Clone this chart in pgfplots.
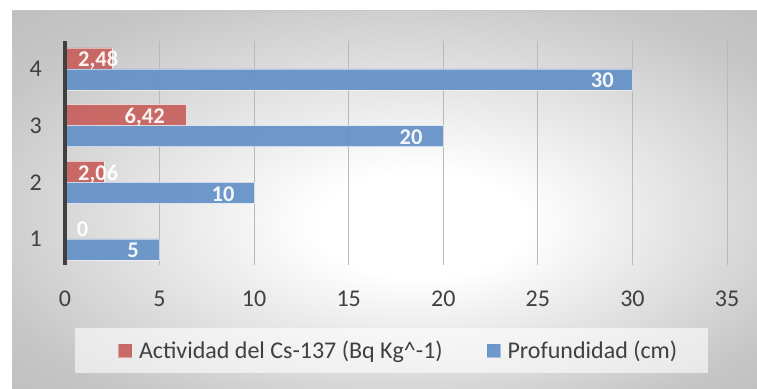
\documentclass[border=0pt]{standalone}
\usepackage{pgfplots}
\pgfplotsset{compat=1.18}
\usepackage{pgfplotstable}
\usepackage{fontspec}
\setmainfont{Carlito}

\definecolor{barred}{RGB}{200,96,93}
\definecolor{barblue}{RGB}{100,145,199}
\definecolor{txtgray}{RGB}{64,64,64}
\definecolor{gridgray}{RGB}{185,185,185}
\definecolor{edgegray}{RGB}{198,198,198}
\definecolor{cornergray}{RGB}{185,185,185}

% soft radial fill behind the chart
\pgfdeclareradialshading{chartbg}{\pgfpoint{3bp}{-4bp}}{%
  color(0bp)=(white); color(7bp)=(white); color(30bp)=(edgegray); color(42bp)=(cornergray)}

% activity of Cs-137 per sample; dx places the value label (pt, from bar end)
\pgfplotstableread{
depth act dx
1 0    27
2 2.06 18
3 6.42 -18
4 2.48 10
}\actividad

% sampling depth per sample
\pgfplotstableread{
depth prof dx
1 5  -17
2 10 -16
3 20 -17
4 30 -15
}\profundidad

\newcommand{\chartfont}{\fontsize{24}{29}\selectfont}
\newcommand{\labelfont}{\fontsize{22.5}{27}\selectfont\bfseries}

\begin{document}
\begin{tikzpicture}
\useasboundingbox (0pt,0pt) rectangle (757pt,388pt);
\shade[shading=chartbg] (12pt,0pt) rectangle (757pt,377pt);
\draw[edgegray, line width=1pt] (12pt,377pt) -- (757pt,377pt);
\fill[white, fill opacity=0.6] (75pt,15pt) rectangle (708pt,60pt);

\begin{axis}[
  at={(65pt,123pt)}, anchor=south west,
  scale only axis, width=662pt, height=224pt,
  xmin=0, xmax=35, ymin=0.541, ymax=4.494,
  xtick={0,5,...,35}, ytick={1,2,3,4},
  xmajorgrids, major grid style={gridgray, line width=1pt},
  axis line style={draw=none},
  major tick length=0pt,
  /pgf/number format/assume math mode=true,
  tick label style={font=\chartfont, text=txtgray, inner sep=0pt},
  xticklabel style={anchor=north, yshift=-26pt},
  yticklabel style={anchor=east, xshift=-23pt},
  clip=false,
  legend columns=2,
  legend cell align=left,
  legend style={at={(0.0801,-0.3817)}, anchor=west, draw=none, fill=none,
    inner sep=0pt, nodes={inner sep=0pt}, font=\chartfont, text=txtgray,
    /tikz/every odd column/.append style={column sep=7pt},
    /tikz/every even column/.append style={column sep=44pt}},
  every node near coord/.append style={font=\labelfont, text=white,
    anchor=base east, xshift=\labeldx pt, yshift=-8.5pt},
  nodes near coords={\pgfmathprintnumber[use comma, fixed, precision=2]{\pgfplotspointmeta}},
]
\addplot[xbar, bar width=21pt, bar shift=10.5pt, fill=barred, fill opacity=0.92,
  draw=white, draw opacity=0.5, line width=0.8pt,
  point meta=x, visualization depends on={\thisrow{dx} \as \labeldx},
  every node near coord/.append style={yshift=10.5pt},
  legend image code/.code={\fill[barred] (0pt,-6.5pt) rectangle (13pt,6.5pt);}]
  table[x=act, y=depth] {\actividad};
\addlegendentry{Actividad del Cs-137 (Bq Kg\textasciicircum-1)}

\addplot[xbar, bar width=21pt, bar shift=-10.5pt, fill=barblue, fill opacity=0.92,
  draw=white, draw opacity=0.5, line width=0.8pt,
  point meta=x, visualization depends on={\thisrow{dx} \as \labeldx},
  every node near coord/.append style={yshift=-10.5pt},
  legend image code/.code={\fill[barblue] (0pt,-6.5pt) rectangle (13pt,6.5pt);}]
  table[x=prof, y=depth] {\profundidad};
\addlegendentry{Profundidad (cm)}

% vertical category axis
\draw[txtgray, line width=3.3pt] (rel axis cs:0,0) -- (rel axis cs:0,1);
\end{axis}
\end{tikzpicture}
\end{document}
